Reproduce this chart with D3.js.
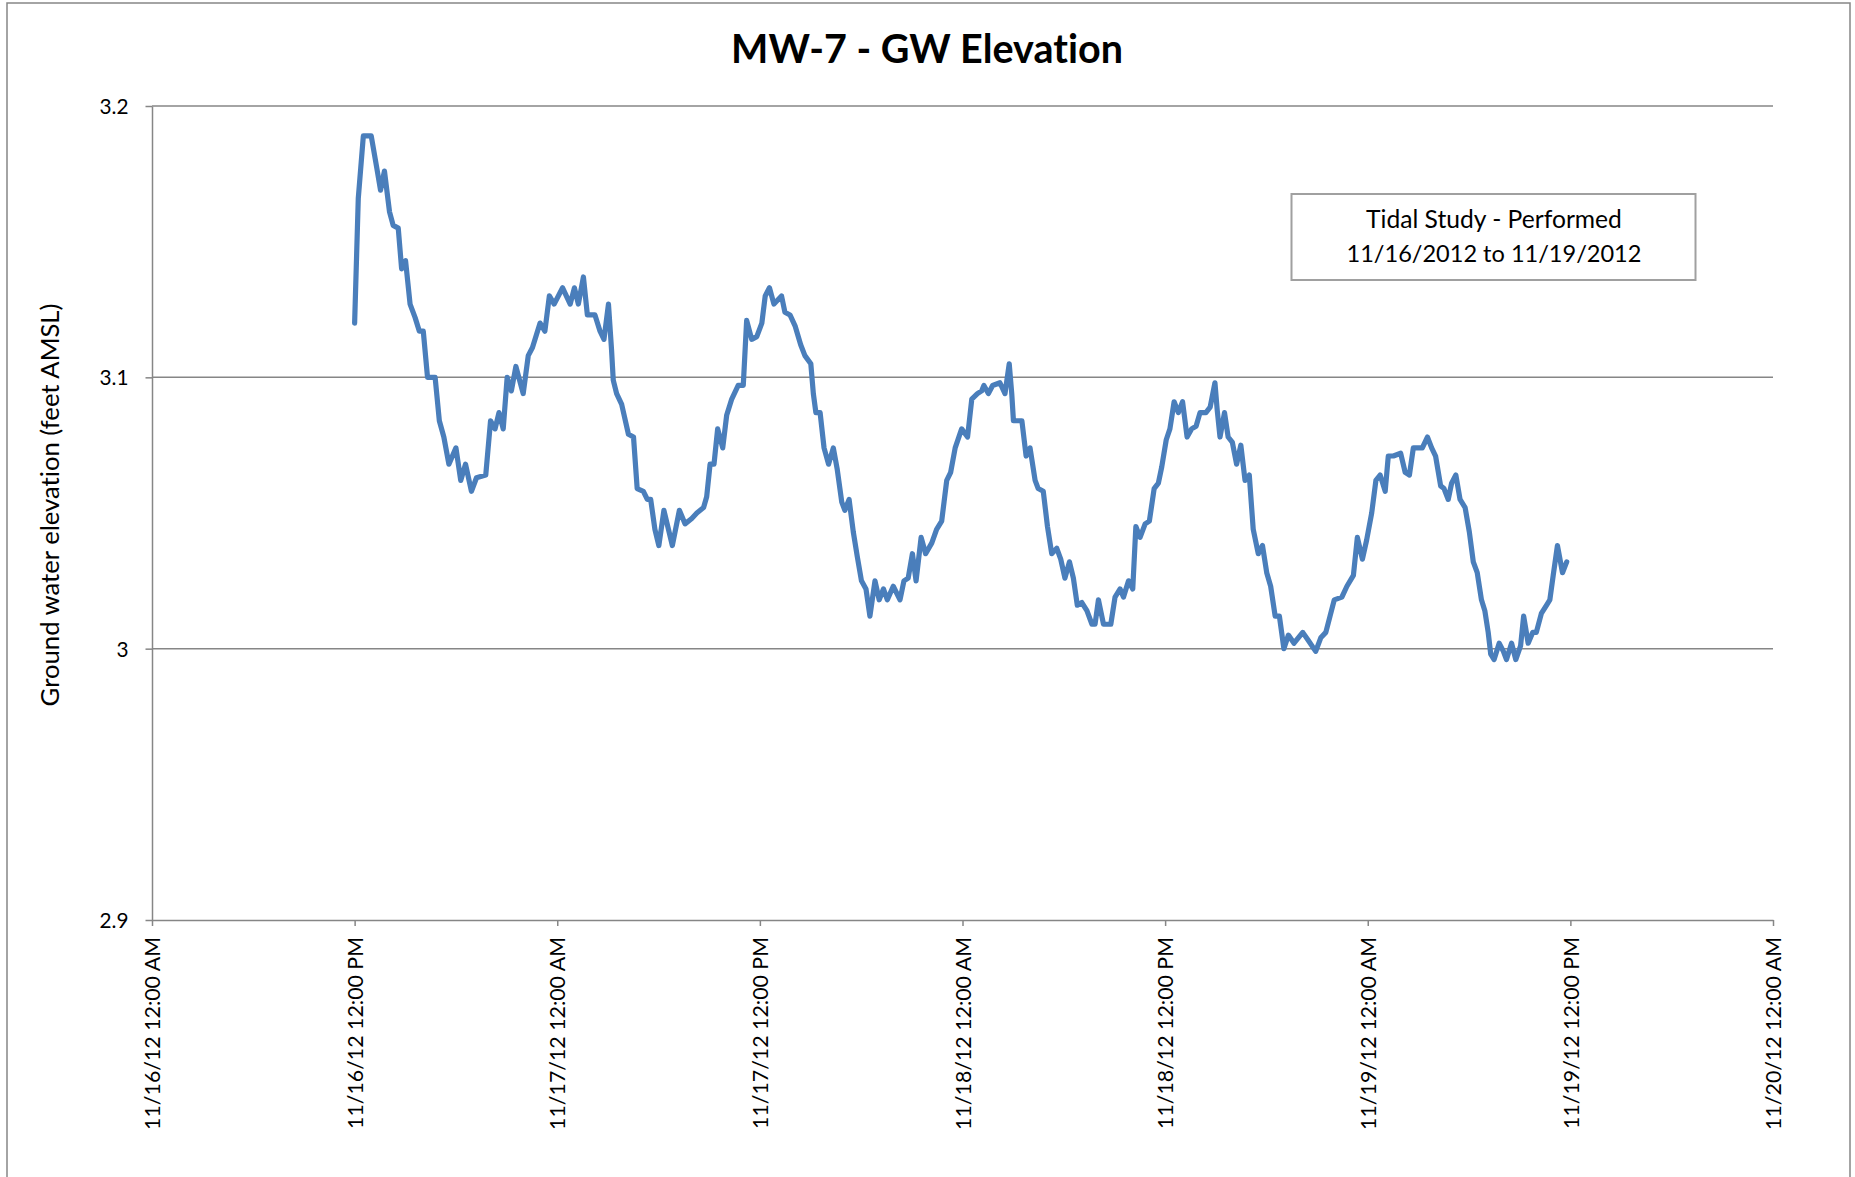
<!DOCTYPE html>
<html>
<head>
<meta charset="utf-8">
<script src="https://cdn.jsdelivr.net/npm/d3@7"></script>
<style>
  html, body { margin: 0; padding: 0; background: #ffffff; }
  svg { display: block; }
  text {
    font-family: Lato, "Noto Sans", "Liberation Sans", sans-serif;
    fill: #000000;
    font-variant-ligatures: none;
    font-feature-settings: "liga" 0, "clig" 0;
  }
</style>
</head>
<body>
<svg id="chart" width="1855" height="1177"></svg>
<script>
// ---- Data -----------------------------------------------------------------
const chartTitle = "MW-7 - GW Elevation";
const yAxisTitle = "Ground water elevation (feet AMSL)";
const noteLines = ["Tidal Study - Performed", "11/16/2012 to 11/19/2012"];

// Reference time for the readings (11/16/2012 12:00 AM, local time)
const seriesStart = new Date(2012, 10, 16, 0, 0, 0);
const axisEnd = new Date(2012, 10, 20, 0, 0, 0);

// Hours after seriesStart for each transducer reading
const hoursFromStart = [
  12.00, 12.22, 12.52, 12.98, 13.31, 13.54, 13.76, 14.06, 14.29, 14.59,
  14.79, 15.02, 15.28, 15.58, 15.84, 16.07, 16.31, 16.76, 17.01, 17.29,
  17.59, 18.00, 18.28, 18.57, 18.92, 19.22, 19.76, 20.05, 20.31, 20.55,
  20.80, 21.04, 21.29, 21.55, 21.99, 22.28, 22.54, 22.98, 23.27, 23.53,
  23.81,
  24.32, 24.76, 25.01, 25.25, 25.55, 25.78, 26.24, 26.53, 26.77, 27.03,
  27.22, 27.32, 27.52, 27.81, 28.21, 28.51, 28.74, 29.10, 29.33, 29.53,
  29.78, 30.02, 30.32, 30.81, 31.23, 31.56, 31.96, 32.26, 32.66, 32.85,
  33.05, 33.28, 33.50, 33.80, 34.03, 34.33, 34.72, 35.02, 35.22, 35.51,
  35.81, 36.11, 36.31, 36.57,
  36.84, 37.29, 37.49, 37.78, 38.08, 38.42, 38.67, 39.01, 39.17, 39.31,
  39.56, 39.80, 40.06, 40.35, 40.59, 40.85, 41.04, 41.28, 41.53, 41.77,
  42.02, 42.28, 42.52, 42.82, 43.07, 43.31, 43.55, 43.90, 44.30, 44.54,
  44.79, 45.03, 45.25, 45.55, 45.82, 46.18, 46.47, 46.77, 47.07, 47.30,
  47.56, 47.95, 48.30, 48.55,
  48.88, 49.14, 49.27, 49.53, 49.78, 50.22, 50.51, 50.77, 50.91, 51.01,
  51.51, 51.76, 52.00, 52.30, 52.49, 52.79, 53.03, 53.28, 53.58, 53.82,
  54.07, 54.33, 54.56, 54.80, 55.06, 55.36, 55.66, 55.85, 56.05, 56.35,
  56.78, 57.04, 57.34, 57.53, 57.83, 58.08, 58.26, 58.52, 58.81, 59.07,
  59.35, 59.60, 59.80, 60.06, 60.29, 60.53, 60.78, 61.03, 61.30,
  61.57, 61.83, 62.07, 62.42, 62.66, 62.95, 63.09, 63.25, 63.51, 63.74,
  63.98, 64.24, 64.48, 64.73, 64.99, 65.22, 65.52, 65.76, 66.01, 66.25,
  66.51, 66.76, 67.04, 67.30, 67.63, 68.15, 68.49, 68.92, 69.22, 69.52,
  69.77, 70.01, 70.46, 70.76, 71.15, 71.39, 71.69, 71.94, 72.24, 72.49,
  72.73, 73.03, 73.22, 73.52, 73.95,
  74.21, 74.46, 74.70, 74.99, 75.23, 75.53, 75.78, 76.02, 76.32, 76.52,
  76.77, 76.97, 77.22, 77.46, 77.76, 78.01, 78.25, 78.49, 78.74, 78.94,
  79.14, 79.28, 79.48, 79.79, 80.03, 80.22, 80.52, 80.77, 81.05, 81.24,
  81.50, 81.76, 81.99, 82.29, 82.59, 82.79, 82.99, 83.24, 83.54, 83.78
];

// Ground water elevation, feet AMSL
const elevationFt = [
  3.120, 3.166, 3.189, 3.189, 3.177, 3.169, 3.176, 3.161, 3.156, 3.155,
  3.140, 3.143, 3.127, 3.122, 3.117, 3.117, 3.100, 3.100, 3.084, 3.078,
  3.068, 3.074, 3.062, 3.068, 3.058, 3.063, 3.064, 3.084, 3.081, 3.087,
  3.081, 3.100, 3.095, 3.104, 3.094, 3.108, 3.111, 3.120, 3.117, 3.130,
  3.127,
  3.133, 3.127, 3.133, 3.127, 3.137, 3.123, 3.123, 3.117, 3.114, 3.127,
  3.110, 3.099, 3.094, 3.090, 3.079, 3.078, 3.059, 3.058, 3.055, 3.055,
  3.044, 3.038, 3.051, 3.038, 3.051, 3.046, 3.048, 3.050, 3.052, 3.056,
  3.068, 3.068, 3.081, 3.074, 3.086, 3.092, 3.097, 3.097, 3.121, 3.114,
  3.115, 3.120, 3.130, 3.133,
  3.127, 3.130, 3.124, 3.123, 3.119, 3.112, 3.108, 3.105, 3.094, 3.087,
  3.087, 3.074, 3.068, 3.074, 3.066, 3.054, 3.051, 3.055, 3.043, 3.034,
  3.025, 3.022, 3.012, 3.025, 3.018, 3.022, 3.018, 3.023, 3.018, 3.025,
  3.026, 3.035, 3.025, 3.041, 3.035, 3.039, 3.044, 3.047, 3.062, 3.065,
  3.074, 3.081, 3.078, 3.092,
  3.094, 3.095, 3.097, 3.094, 3.097, 3.098, 3.094, 3.105, 3.094, 3.084,
  3.084, 3.071, 3.074, 3.062, 3.059, 3.058, 3.045, 3.035, 3.037, 3.033,
  3.026, 3.032, 3.026, 3.016, 3.017, 3.014, 3.009, 3.009, 3.018, 3.009,
  3.009, 3.019, 3.022, 3.019, 3.025, 3.022, 3.045, 3.041, 3.046, 3.047,
  3.059, 3.061, 3.067, 3.077, 3.081, 3.091, 3.087, 3.091, 3.078,
  3.081, 3.082, 3.087, 3.087, 3.089, 3.098, 3.088, 3.078, 3.087, 3.078,
  3.076, 3.068, 3.075, 3.062, 3.064, 3.044, 3.035, 3.038, 3.028, 3.023,
  3.012, 3.012, 3.000, 3.005, 3.002, 3.006, 3.003, 2.999, 3.004, 3.006,
  3.012, 3.018, 3.019, 3.023, 3.027, 3.041, 3.033, 3.040, 3.050, 3.062,
  3.064, 3.058, 3.071, 3.071, 3.072,
  3.065, 3.064, 3.074, 3.074, 3.074, 3.078, 3.074, 3.071, 3.060, 3.059,
  3.055, 3.061, 3.064, 3.055, 3.052, 3.043, 3.032, 3.028, 3.018, 3.014,
  3.006, 2.998, 2.996, 3.002, 2.999, 2.996, 3.002, 2.996, 3.001, 3.012,
  3.002, 3.006, 3.006, 3.013, 3.016, 3.018, 3.027, 3.038, 3.028, 3.032
];

// Axis ticks
const yTicks = [2.9, 3.0, 3.1, 3.2];
const xTickHours = [0, 12, 24, 36, 48, 60, 72, 84, 96];

// ---- Layout ---------------------------------------------------------------
const plot = { left: 152, right: 1773, top: 106, bottom: 920 };
const gridColor = "#868686";
const lineColor = "#4a7ebb";

const svg = d3.select("#chart");

const readings = hoursFromStart.map((h, i) => ({
  t: d3.timeMinute.offset(seriesStart, Math.round(h * 60)),
  v: elevationFt[i]
}));

const x = d3.scaleTime()
  .domain([seriesStart, axisEnd])
  .range([plot.left, plot.right]);

const y = d3.scaleLinear()
  .domain([2.9, 3.2])
  .range([plot.bottom, plot.top]);

// Scale a text's font size so its rendered length equals the given width
function fitFont(sel, target) {
  const fs = parseFloat(sel.attr("font-size"));
  const w = sel.node().getComputedTextLength();
  const nfs = fs * target / w;
  sel.attr("font-size", nfs);
  return nfs;
}

// Chart area border
svg.append("rect")
  .attr("x", 7).attr("y", 3)
  .attr("width", 1843).attr("height", 1210)
  .attr("fill", "none")
  .attr("stroke", gridColor)
  .attr("stroke-width", 1.5);

// Horizontal gridlines
svg.append("g")
  .selectAll("line")
  .data(yTicks.filter(d => d > 2.9))
  .join("line")
  .attr("x1", plot.left).attr("x2", plot.right)
  .attr("y1", d => y(d)).attr("y2", d => y(d))
  .attr("stroke", gridColor)
  .attr("stroke-width", 1.5);

// Y axis
const yAxis = svg.append("g")
  .attr("transform", `translate(${plot.left},0)`)
  .call(d3.axisLeft(y)
    .tickValues(yTicks)
    .tickSize(6.5)
    .tickSizeOuter(0)
    .tickPadding(17)
    .tickFormat(d3.format("~g")));
yAxis.select(".domain").attr("stroke", gridColor).attr("stroke-width", 1.5);
yAxis.selectAll(".tick line").attr("stroke", gridColor).attr("stroke-width", 1.5);
const yLabels = yAxis.selectAll(".tick text")
  .attr("font-family", null)
  .attr("font-size", 20)
  .attr("dy", "0.36em")
  .attr("fill", "#000");
const yFs = fitFont(yAxis.selectAll(".tick text").filter(d => d === 3.1), 29);
yLabels.attr("font-size", yFs);

// X axis
const xTickDates = xTickHours.map(h => d3.timeHour.offset(seriesStart, h));
const xAxis = svg.append("g")
  .attr("transform", `translate(0,${plot.bottom})`)
  .call(d3.axisBottom(x)
    .tickValues(xTickDates)
    .tickSize(6)
    .tickSizeOuter(0)
    .tickFormat(d3.timeFormat("%m/%d/%y %I:%M %p")));
xAxis.select(".domain").attr("stroke", gridColor).attr("stroke-width", 1.5);
xAxis.selectAll(".tick line").attr("stroke", gridColor).attr("stroke-width", 1.5);
const xLabels = xAxis.selectAll(".tick text")
  .attr("font-family", null)
  .attr("font-size", 20)
  .attr("transform", "rotate(-90)")
  .attr("text-anchor", "end")
  .attr("x", -17)
  .attr("y", 0)
  .attr("dy", "0.36em")
  .attr("fill", "#000");
const xFs = fitFont(d3.select(xLabels.nodes()[0]), 193);
xLabels.attr("font-size", xFs);

// Elevation series
const line = d3.line()
  .x(d => x(d.t))
  .y(d => y(d.v))
  .curve(d3.curveLinear);

svg.append("path")
  .datum(readings)
  .attr("d", line)
  .attr("fill", "none")
  .attr("stroke", lineColor)
  .attr("stroke-width", 5.2)
  .attr("stroke-linejoin", "round")
  .attr("stroke-linecap", "round");

// Title
const title = svg.append("text")
  .attr("x", 927).attr("y", 63)
  .attr("text-anchor", "middle")
  .attr("font-weight", 700)
  .attr("font-size", 36)
  .text(chartTitle);
fitFont(title, 392);

// Y axis title
const yTitle = svg.append("text")
  .attr("transform", "translate(59,505) rotate(-90)")
  .attr("text-anchor", "middle")
  .attr("font-size", 24)
  .text(yAxisTitle);
fitFont(yTitle, 403);

// Study period note
const note = svg.append("g");
note.append("rect")
  .attr("x", 1291.5).attr("y", 194)
  .attr("width", 404).attr("height", 86)
  .attr("fill", "#ffffff")
  .attr("stroke", "#a0a0a0")
  .attr("stroke-width", 2);
const noteWidths = [256, 295];
const noteBaselines = [227.5, 262];
noteLines.forEach((s, i) => {
  const t = note.append("text")
    .attr("x", 1494)
    .attr("y", noteBaselines[i])
    .attr("text-anchor", "middle")
    .attr("font-size", 22)
    .text(s);
  fitFont(t, noteWidths[i]);
});
</script>
</body>
</html>
